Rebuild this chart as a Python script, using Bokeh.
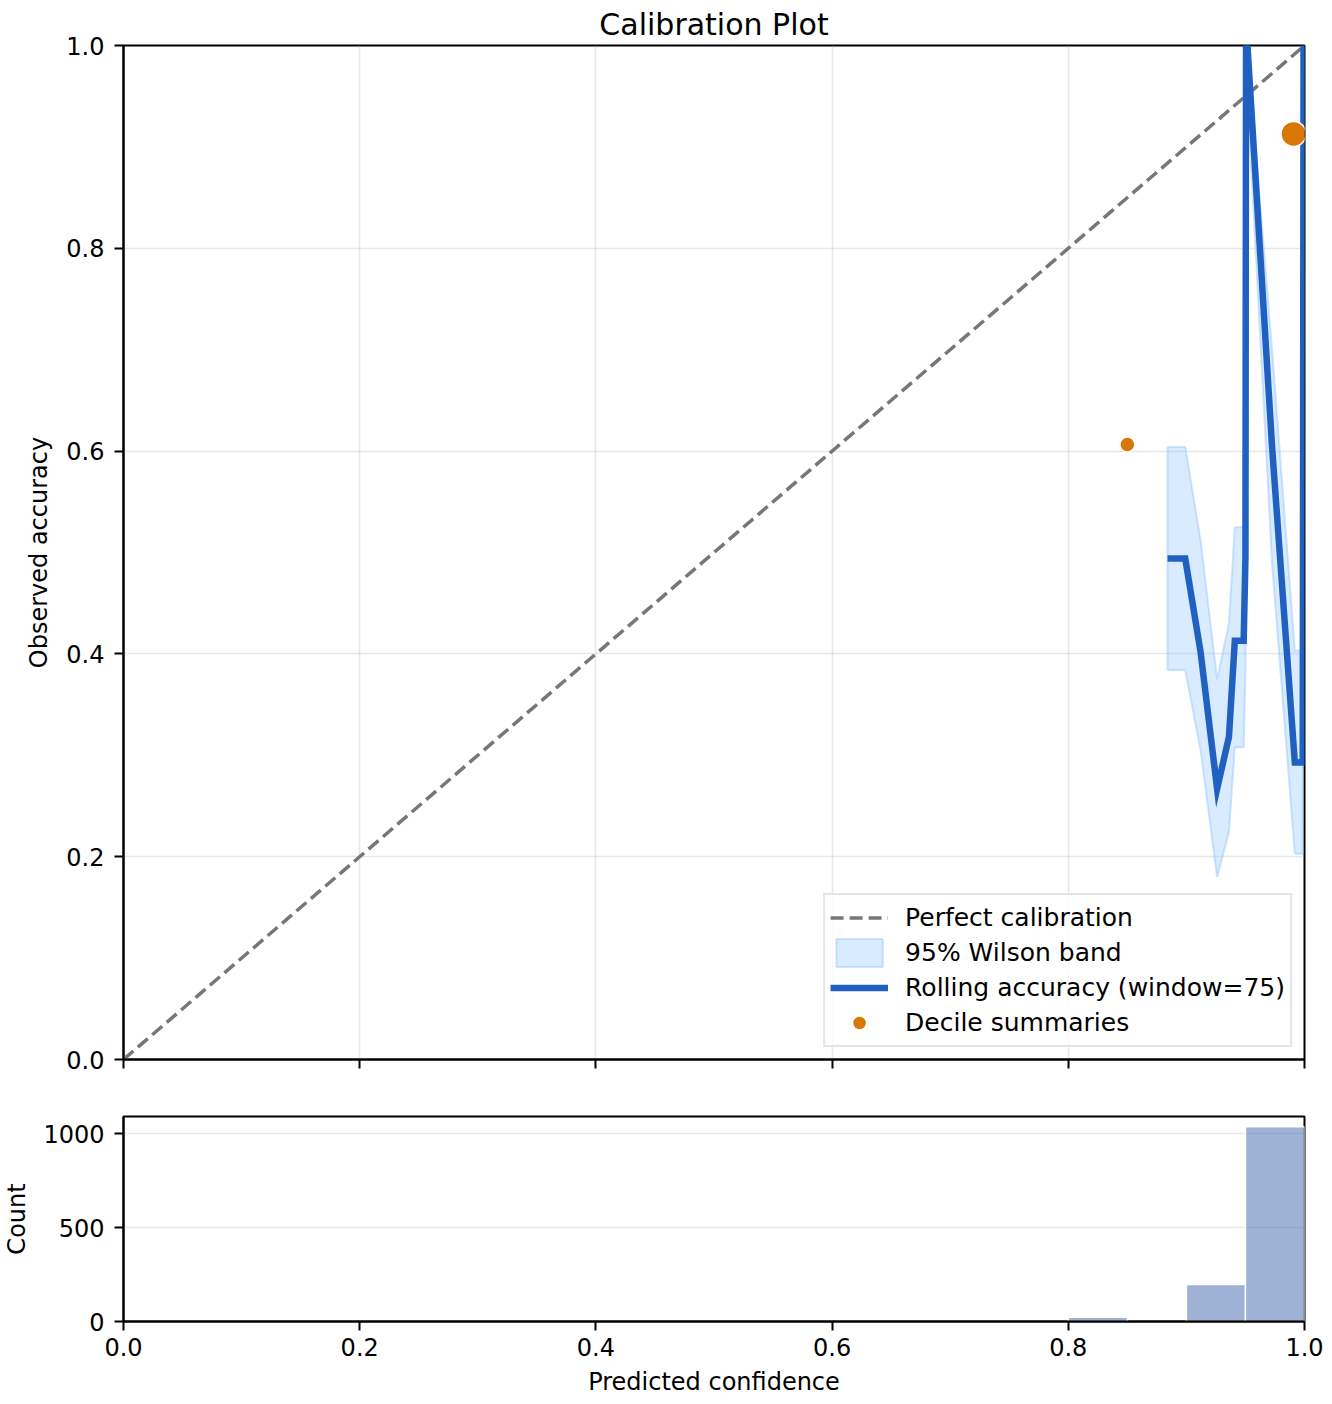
from bokeh.plotting import figure
from bokeh.models import Range1d, FixedTicker, PrintfTickFormatter, Legend, LegendItem
from bokeh.layouts import column
from bokeh.embed import file_html
from bokeh.resources import INLINE

# ---------------- data ----------------
diag_x = [0.0, 1.0]
diag_y = [0.0, 1.0]

roll_x = [0.884, 0.899, 0.912, 0.926, 0.936, 0.941, 0.9485, 0.9500, 0.9505, 0.9517, 0.9725, 0.9918, 0.9985, 0.9992]
roll_acc = [0.494, 0.494, 0.402, 0.267, 0.318, 0.413, 0.413, 0.495, 1.0, 1.0, 0.605, 0.293, 0.293, 1.0]
band_upper = [0.604, 0.604, 0.512, 0.375, 0.430, 0.525, 0.525, 0.604, 1.0, 1.0, 0.70, 0.403, 0.403, 1.0]
band_lower = [0.384, 0.384, 0.305, 0.180, 0.224, 0.308, 0.308, 0.384, 0.951, 0.951, 0.49, 0.203, 0.203, 0.951]

decile_conf = [0.850, 0.9907]
decile_acc = [0.6065, 0.9128]

bin_edges = [i * 0.05 for i in range(21)]
bin_counts = [0, 0, 0, 0, 0, 0, 0, 0, 0, 0, 0, 0, 0, 0, 0, 0, 22, 0, 197, 1038]

x_ticks = [0.0, 0.2, 0.4, 0.6, 0.8, 1.0]
y_ticks = [0.0, 0.2, 0.4, 0.6, 0.8, 1.0]
count_ticks = [0, 500, 1000]

# ---------------- style ----------------
FONT = "DejaVu Sans"
FS = "24px"


def style_axes(fig):
    for ax in fig.axis:
        ax.axis_line_width = 2
        ax.axis_line_color = "black"
        ax.major_tick_line_width = 2
        ax.major_tick_line_color = "black"
        ax.major_tick_out = 9
        ax.major_tick_in = 0
        ax.minor_tick_out = 0
        ax.minor_tick_in = 0
        ax.major_label_text_font = FONT
        ax.major_label_text_font_size = FS
        ax.major_label_text_color = "black"
        ax.major_label_standoff = 7
        ax.axis_label_text_font = FONT
        ax.axis_label_text_font_size = FS
        ax.axis_label_text_font_style = "normal"
        ax.axis_label_text_color = "black"
    fig.outline_line_color = "black"
    fig.outline_line_width = 2
    fig.outline_line_alpha = 1.0
    fig.background_fill_color = "white"
    fig.border_fill_color = "white"


# ---------------- main calibration figure ----------------
p = figure(frame_width=1181, frame_height=1014, x_range=Range1d(0, 1), y_range=Range1d(0, 1),
           output_backend="svg", toolbar_location=None,
           min_border_left=115, min_border_right=20, min_border_top=37, min_border_bottom=40)
p.title.text = "Calibration Plot"
p.title.align = "center"
p.title.text_font = FONT
p.title.text_font_size = "30px"
p.title.text_font_style = "normal"
p.title.text_color = "black"
p.title.standoff = 8

band_xs = roll_x + roll_x[::-1]
band_ys = band_upper + band_lower[::-1]
band = p.patch(band_xs, band_ys, fill_color="#93c5fd", fill_alpha=0.35,
               line_color="#93c5fd", line_alpha=0.45, line_width=2)
diag = p.line(diag_x, diag_y, line_color="#777777", line_width=3.5, line_dash="13 6")
roll = p.line(roll_x, roll_acc, line_color="#2060c0", line_width=6.5, line_join="miter")
dots = p.scatter(decile_conf, decile_acc, size=[15, 25], fill_color="#d97706",
                 line_color="white", line_width=1.5)

p.xaxis.ticker = FixedTicker(ticks=x_ticks)
p.yaxis.ticker = FixedTicker(ticks=y_ticks)
p.yaxis.formatter = PrintfTickFormatter(format="%.1f")
p.yaxis.axis_label = "Observed accuracy"
style_axes(p)
p.xaxis.major_label_overrides = {t: "" for t in x_ticks}
p.yaxis.major_label_standoff = 10
p.yaxis.axis_label_standoff = 10
p.xgrid.ticker = FixedTicker(ticks=x_ticks)
p.ygrid.ticker = FixedTicker(ticks=y_ticks)
for g in (p.xgrid, p.ygrid):
    g.grid_line_color = "#b0b0b0"
    g.grid_line_alpha = 0.3
    g.grid_line_width = 1.5

legend = Legend(items=[
    LegendItem(label="Perfect calibration", renderers=[diag]),
    LegendItem(label="95% Wilson band", renderers=[band]),
    LegendItem(label="Rolling accuracy (window=75)", renderers=[roll]),
    LegendItem(label="Decile summaries", renderers=[dots], index=1),
], location="bottom_right")
legend.margin = 12
legend.padding = 5
legend.spacing = 0
legend.glyph_width = 58
legend.glyph_height = 35
legend.label_height = 35
legend.label_standoff = 17
legend.label_text_font = FONT
legend.label_text_font_size = "25px"
legend.label_text_color = "black"
legend.border_line_color = "#cccccc"
legend.border_line_width = 2
legend.background_fill_alpha = 0.8
p.add_layout(legend)

# ---------------- histogram ----------------
h = figure(frame_width=1181, frame_height=205, x_range=p.x_range, y_range=Range1d(0, 1092),
           output_backend="svg", toolbar_location=None,
           min_border_left=115, min_border_right=20, min_border_top=17, min_border_bottom=72)
nz = [i for i, c in enumerate(bin_counts) if c > 0]
h.quad(left=[bin_edges[i] for i in nz], right=[bin_edges[i + 1] for i in nz],
       bottom=0, top=[bin_counts[i] for i in nz],
       fill_color="#4c72b0", fill_alpha=0.55, line_color="white", line_width=1.5)
h.xaxis.ticker = FixedTicker(ticks=x_ticks)
h.xaxis.formatter = PrintfTickFormatter(format="%.1f")
h.yaxis.ticker = FixedTicker(ticks=count_ticks)
h.xaxis.axis_label = "Predicted confidence"
h.yaxis.axis_label = "Count"
style_axes(h)
h.yaxis.major_label_standoff = 10
h.xaxis.axis_label_standoff = 9
h.yaxis.axis_label_standoff = 9
h.xgrid.visible = False
h.ygrid.ticker = FixedTicker(ticks=count_ticks)
h.ygrid.grid_line_color = "#b0b0b0"
h.ygrid.grid_line_alpha = 0.3
h.ygrid.grid_line_width = 1.5

layout = column(p, h, spacing=0)
open("out.html", "w").write(file_html(layout, INLINE))
